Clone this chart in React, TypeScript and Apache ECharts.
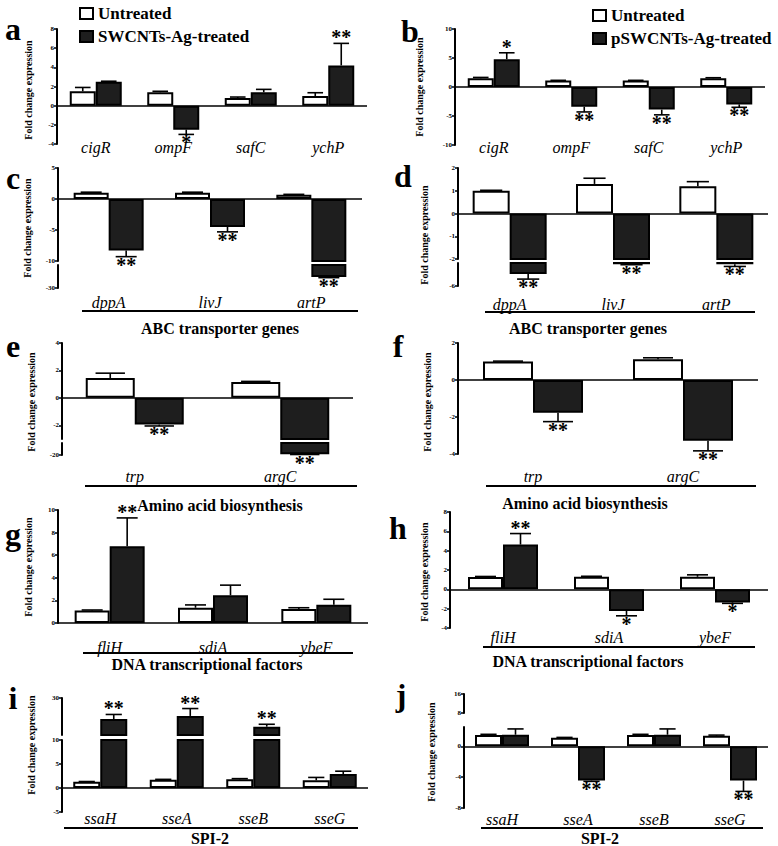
import React, { useEffect, useRef } from "react";
import * as echarts from "echarts";

const SERIF = "Liberation Serif";

// ---------- DATA ----------
// a
const catsA = ["cigR", "ompF", "safC", "ychP"];
const untreatedA = [1.5, 1.4, 0.8, 1.0];
const untreatedErrA = [0.4, 0.1, 0.1, 0.35];
const treatedA = [2.5, -2.5, 1.4, 4.2];
const treatedErrA = [0.05, 0.5, 0.3, 2.3];
const starsA = ["", "*", "", "**"];
const ticksA = [8, 6, 4, 2, 0, -2, -4];
// b
const catsB = ["cigR", "ompF", "safC", "ychP"];
const untreatedB = [1.5, 1.1, 1.1, 1.5];
const untreatedErrB = [0.15, 0.05, 0.05, 0.1];
const treatedB = [4.8, -3.4, -3.9, -3.0];
const treatedErrB = [1.1, 0.9, 0.9, 0.5];
const starsB = ["*", "**", "**", "**"];
const ticksB = [10, 5, 0, -5, -10];
// c
const catsC = ["dppA", "livJ", "artP"];
const untreatedC = [1.0, 1.0, 0.7];
const untreatedErrC = [0.1, 0.1, 0.05];
const treatedC = [-8.3, -4.5, -20.5];
const treatedErrC = [1.0, 0.8, 0.5];
const starsC = ["**", "**", "**"];
const ticksCUpper = [5, 0, -5, -10];
const ticksCLower = [-30];
// d
const catsD = ["dppA", "livJ", "artP"];
const untreatedD = [1.0, 1.3, 1.2];
const untreatedErrD = [0.02, 0.25, 0.2];
const treatedD = [-3.9, -2.2, -2.2];
const treatedErrD = [0.9, 0.1, 0.4];
const starsD = ["**", "**", "**"];
const ticksDUpper = [2, 1, 0, -1, -2];
const ticksDLower = [-6];
// e
const catsE = ["trp", "argC"];
const untreatedE = [1.45, 1.15];
const untreatedErrE = [0.35, 0.05];
const treatedE = [-1.95, -19];
const treatedErrE = [0.1, 0.3];
const starsE = ["**", "**"];
const ticksEUpper = [4, 2, 0, -2];
const ticksELower = [-20];
// f
const catsF = ["trp", "argC"];
const untreatedF = [1.0, 1.12];
const untreatedErrF = [0.02, 0.08];
const treatedF = [-1.77, -3.28];
const treatedErrF = [0.48, 0.55];
const starsF = ["**", "**"];
const ticksF = [2, 0, -2, -4];
// g
const catsG = ["fliH", "sdiA", "ybeF"];
const untreatedG = [1.1, 1.35, 1.25];
const untreatedErrG = [0.05, 0.25, 0.1];
const treatedG = [6.8, 2.45, 1.62];
const treatedErrG = [2.5, 0.9, 0.48];
const starsG = ["**", "", ""];
const ticksG = [10, 8, 6, 4, 2, 0];
// h
const catsH = ["fliH", "sdiA", "ybeF"];
const untreatedH = [1.28, 1.3, 1.3];
const untreatedErrH = [0.05, 0.05, 0.2];
const treatedH = [4.63, -2.24, -1.35];
const treatedErrH = [1.14, 0.5, 0.1];
const starsH = ["**", "*", "*"];
const ticksH = [8, 6, 4, 2, 0, -2, -4];
// i
const catsI = ["ssaH", "sseA", "sseB", "sseG"];
const untreatedI = [1.3, 1.7, 1.8, 1.6];
const untreatedErrI = [0.05, 0.1, 0.15, 0.6];
const treatedI = [18.6, 20.3, 14.5, 2.9];
const treatedErrI = [2.5, 4.0, 1.3, 0.6];
const starsI = ["**", "**", "**", ""];
const ticksIUpper = [30];
const ticksILower = [10, 5, 0, -5];
// j
const catsJ = ["ssaH", "sseA", "sseB", "sseG"];
const untreatedJ = [1.45, 1.1, 1.45, 1.35];
const untreatedErrJ = [0.1, 0.05, 0.1, 0.1];
const treatedJ = [1.5, -4.45, 1.5, -4.45];
const treatedErrJ = [0.75, 0.1, 0.75, 1.4];
const starsJ = ["", "**", "", "**"];
const ticksJUpper = [16, 8];
const ticksJLower = [0, -4, -8];

const groupTitles = ["ABC transporter genes", "Amino acid biosynthesis", "DNA transcriptional factors", "SPI-2"];

// ---------- LAYOUT ----------
type Seg = { top: number; bottom: number; min: number; max: number; ticks: number[] };
type Panel = {
  letter: string; letterX: number; letterY: number;
  titleX: number; titleY: number;
  left: number; width: number; barWidth: number; labelMargin: number;
  segs: Seg[];
  cats: string[]; u: number[]; uErr: number[]; t: number[]; tErr: number[]; stars: string[];
  treatedName: string;
  group?: { text: string; x1: number; x2: number; lineY: number; textX: number; textY: number };
};

const panels: Panel[] = [
  {
    letter: "a", letterX: 13, letterY: 29, titleX: 28, titleY: 90,
    left: 57, width: 310, barWidth: 26, labelMargin: -5,
    segs: [{ top: 29, bottom: 144, min: -4, max: 8, ticks: ticksA }],
    cats: catsA, u: untreatedA, uErr: untreatedErrA, t: treatedA, tErr: treatedErrA, stars: starsA,
    treatedName: "SWCNTs-Ag-treated",
  },
  {
    letter: "b", letterX: 410, letterY: 31, titleX: 419, titleY: 87,
    left: 455, width: 310, barWidth: 26, labelMargin: -6,
    segs: [{ top: 29, bottom: 145, min: -10, max: 10, ticks: ticksB }],
    cats: catsB, u: untreatedB, uErr: untreatedErrB, t: treatedB, tErr: treatedErrB, stars: starsB,
    treatedName: "pSWCNTs-Ag-treated",
  },
  {
    letter: "c", letterX: 13, letterY: 178, titleX: 27, titleY: 228,
    left: 58, width: 304, barWidth: 35, labelMargin: 6,
    segs: [
      { top: 168, bottom: 261, min: -10, max: 5, ticks: ticksCUpper },
      { top: 265, bottom: 288, min: -30, max: -10, ticks: ticksCLower },
    ],
    cats: catsC, u: untreatedC, uErr: untreatedErrC, t: treatedC, tErr: treatedErrC, stars: starsC,
    treatedName: "SWCNTs-Ag-treated",
    group: { text: groupTitles[0], x1: 82, x2: 358, lineY: 311, textX: 220, textY: 328 },
  },
  {
    letter: "d", letterX: 403, letterY: 176, titleX: 424, titleY: 235,
    left: 458, width: 310, barWidth: 37, labelMargin: 10,
    segs: [
      { top: 168, bottom: 259, min: -2, max: 2, ticks: ticksDUpper },
      { top: 263, bottom: 286, min: -6, max: -2, ticks: ticksDLower },
    ],
    cats: catsD, u: untreatedD, uErr: untreatedErrD, t: treatedD, tErr: treatedErrD, stars: starsD,
    treatedName: "pSWCNTs-Ag-treated",
    group: { text: groupTitles[0], x1: 485, x2: 755, lineY: 312, textX: 588, textY: 328 },
  },
  {
    letter: "e", letterX: 13, letterY: 346, titleX: 31, titleY: 402,
    left: 62, width: 291, barWidth: 49, labelMargin: 13,
    segs: [
      { top: 343, bottom: 439, min: -3, max: 4, ticks: ticksEUpper },
      { top: 443, bottom: 455, min: -20, max: -3, ticks: ticksELower },
    ],
    cats: catsE, u: untreatedE, uErr: untreatedErrE, t: treatedE, tErr: treatedErrE, stars: starsE,
    treatedName: "SWCNTs-Ag-treated",
    group: { text: groupTitles[1], x1: 85, x2: 357, lineY: 486, textX: 220, textY: 505 },
  },
  {
    letter: "f", letterX: 398, letterY: 346, titleX: 427, titleY: 402,
    left: 458, width: 300, barWidth: 50, labelMargin: 14,
    segs: [{ top: 343, bottom: 454, min: -4, max: 2, ticks: ticksF }],
    cats: catsF, u: untreatedF, uErr: untreatedErrF, t: treatedF, tErr: treatedErrF, stars: starsF,
    treatedName: "pSWCNTs-Ag-treated",
    group: { text: groupTitles[1], x1: 486, x2: 756, lineY: 486, textX: 585, textY: 503 },
  },
  {
    letter: "g", letterX: 13, letterY: 534, titleX: 28, titleY: 567,
    left: 58, width: 310, barWidth: 35, labelMargin: 16,
    segs: [{ top: 510, bottom: 623, min: 0, max: 10, ticks: ticksG }],
    cats: catsG, u: untreatedG, uErr: untreatedErrG, t: treatedG, tErr: treatedErrG, stars: starsG,
    treatedName: "SWCNTs-Ag-treated",
    group: { text: groupTitles[2], x1: 83, x2: 353, lineY: 653, textX: 207, textY: 664 },
  },
  {
    letter: "h", letterX: 398, letterY: 528, titleX: 424, titleY: 572,
    left: 450, width: 318, barWidth: 35, labelMargin: 1,
    segs: [{ top: 512, bottom: 628, min: -4, max: 8, ticks: ticksH }],
    cats: catsH, u: untreatedH, uErr: untreatedErrH, t: treatedH, tErr: treatedErrH, stars: starsH,
    treatedName: "pSWCNTs-Ag-treated",
    group: { text: groupTitles[2], x1: 483, x2: 755, lineY: 647, textX: 588, textY: 661 },
  },
  {
    letter: "i", letterX: 13, letterY: 698, titleX: 31, titleY: 745,
    left: 62, width: 306, barWidth: 27, labelMargin: -2,
    segs: [
      { top: 698, bottom: 735, min: 10, max: 30, ticks: ticksIUpper },
      { top: 740, bottom: 812, min: -5, max: 10, ticks: ticksILower },
    ],
    cats: catsI, u: untreatedI, uErr: untreatedErrI, t: treatedI, tErr: treatedErrI, stars: starsI,
    treatedName: "SWCNTs-Ag-treated",
    group: { text: groupTitles[3], x1: 64, x2: 358, lineY: 828, textX: 210, textY: 838 },
  },
  {
    letter: "j", letterX: 401, letterY: 695, titleX: 431, titleY: 752,
    left: 464, width: 304, barWidth: 27, labelMargin: 3,
    segs: [
      { top: 694, bottom: 713, min: 8, max: 16, ticks: ticksJUpper },
      { top: 727, bottom: 808, min: -8, max: 2.5, ticks: ticksJLower },
    ],
    cats: catsJ, u: untreatedJ, uErr: untreatedErrJ, t: treatedJ, tErr: treatedErrJ, stars: starsJ,
    treatedName: "pSWCNTs-Ag-treated",
    group: { text: groupTitles[3], x1: 481, x2: 763, lineY: 828, textX: 600, textY: 838 },
  },
];

function errSeries(gi: number, vals: number[], errs: number[], stars: string[] | null, side: number, seg: Seg, bw: number) {
  return {
    type: "custom",
    xAxisIndex: gi,
    yAxisIndex: gi,
    silent: true,
    clip: false,
    z: 5,
    data: vals.map((v, i) => [i, v, v + (v < 0 ? -1 : 1) * errs[i]]),
    renderItem: (params: any, api: any) => {
      const i = api.value(0);
      const v = api.value(1);
      const e = api.value(2);
      const lo = Math.min(v, e);
      const hi = Math.max(v, e);
      const cLo = Math.max(lo, seg.min);
      const cHi = Math.min(hi, seg.max);
      const cx = api.coord([i, 0])[0] + (side * bw) / 2;
      const capW = bw * 0.6;
      const children: any[] = [];
      const eIn = e >= seg.min && e <= seg.max;
      if (cLo <= cHi) {
        const y1 = api.coord([i, cLo])[1];
        const y2 = api.coord([i, cHi])[1];
        children.push({ type: "line", shape: { x1: cx, y1, x2: cx, y2 }, style: { stroke: "#000", lineWidth: 1.6 } });
        if (eIn) {
          const ye = api.coord([i, e])[1];
          children.push({
            type: "line",
            shape: { x1: cx - capW / 2, y1: ye, x2: cx + capW / 2, y2: ye },
            style: { stroke: "#000", lineWidth: 1.6 },
          });
        }
      }
      const star = stars ? stars[params.dataIndex] : "";
      if (star && eIn) {
        const ye = api.coord([i, e])[1];
        const up = v >= 0;
        children.push({
          type: "text",
          x: cx,
          y: up ? ye - 6 : ye + 8,
          style: {
            text: star,
            fill: "#000",
            fontSize: 20,
            lineHeight: 12,
            fontWeight: "bold",
            fontFamily: SERIF,
            align: "center",
            verticalAlign: "middle",
          },
        });
      }
      return { type: "group", children };
    },
  };
}

function buildOption() {
  const grid: any[] = [];
  const xAxis: any[] = [];
  const yAxis: any[] = [];
  const series: any[] = [];
  const graphic: any[] = [];

  panels.forEach((p) => {
    p.segs.forEach((s, si) => {
      const gi = grid.length;
      const isBottom = si === p.segs.length - 1;
      grid.push({ left: p.left, top: s.top, width: p.width, height: s.bottom - s.top, containLabel: false, outerBoundsMode: "none" });
      xAxis.push({
        type: "category",
        gridIndex: gi,
        data: p.cats,
        position: "bottom",
        axisLine: { show: false, onZero: false },
        axisTick: { show: false },
        splitLine: { show: false },
        axisLabel: {
          show: isBottom,
          interval: 0,
          margin: p.labelMargin,
          fontFamily: SERIF,
          fontStyle: "italic",
          fontSize: 16,
          lineHeight: 16,
          color: "#000",
        },
      });
      yAxis.push({
        type: "value",
        gridIndex: gi,
        min: s.min,
        max: s.max,
        axisLine: { show: true, onZero: false, lineStyle: { color: "#000", width: 2 } },
        axisTick: { show: true, inside: false, length: 3, lineStyle: { color: "#000", width: 1.5 }, customValues: s.ticks },
        axisLabel: { show: true, customValues: s.ticks, fontSize: 7, fontWeight: "bold", fontFamily: SERIF, color: "#000", margin: 3 },
        splitLine: { show: false },
      });
      const hasZero = s.min <= 0 && s.max >= 0;
      series.push({
        type: "bar",
        name: "Untreated",
        xAxisIndex: gi,
        yAxisIndex: gi,
        data: p.u,
        barWidth: p.barWidth,
        barGap: "0%",
        clip: true,
        silent: true,
        itemStyle: { color: "#ffffff", borderColor: "#000", borderWidth: 2 },
      });
      series.push({
        type: "bar",
        name: p.treatedName,
        xAxisIndex: gi,
        yAxisIndex: gi,
        data: p.t,
        barWidth: p.barWidth,
        barGap: "0%",
        clip: true,
        silent: true,
        itemStyle: { color: "#1e1e1e", borderColor: "#000", borderWidth: 2 },
        markLine: hasZero
          ? {
              silent: true,
              symbol: ["none", "none"],
              label: { show: false },
              lineStyle: { color: "#000", width: 1.5, type: "solid" },
              data: [{ yAxis: 0 }],
            }
          : undefined,
      });
      series.push(errSeries(gi, p.u, p.uErr, null, -1, s, p.barWidth));
      series.push(errSeries(gi, p.t, p.tErr, p.stars, 1, s, p.barWidth));
    });

    graphic.push({
      type: "text",
      x: p.letterX,
      y: p.letterY,
      style: { text: p.letter, fontSize: 32, fontWeight: "bold", fontFamily: SERIF, fill: "#000", align: "center", verticalAlign: "middle" },
    });
    graphic.push({
      type: "text",
      x: p.titleX,
      y: p.titleY,
      rotation: Math.PI / 2,
      style: { text: "Fold change expression", fontSize: 10, fontWeight: "bold", fontFamily: SERIF, fill: "#000", align: "center", verticalAlign: "middle" },
    });
    if (p.group) {
      graphic.push({
        type: "line",
        shape: { x1: p.group.x1, y1: p.group.lineY, x2: p.group.x2, y2: p.group.lineY },
        style: { stroke: "#000", lineWidth: 2 },
      });
      graphic.push({
        type: "text",
        x: p.group.textX,
        y: p.group.textY,
        style: { text: p.group.text, fontSize: 16, fontWeight: "bold", fontFamily: SERIF, fill: "#000", align: "center", verticalAlign: "middle" },
      });
    }
  });

  const legendText = { fontFamily: SERIF, fontSize: 17, fontWeight: "bold", color: "#000" };
  return {
    animation: false,
    backgroundColor: "#ffffff",
    legend: [
      {
        data: ["Untreated", "SWCNTs-Ag-treated"],
        orient: "vertical",
        left: 74,
        top: 0,
        icon: "rect",
        itemWidth: 13,
        itemHeight: 11,
        itemGap: 6,
        selectedMode: false,
        textStyle: legendText,
      },
      {
        data: ["Untreated", "pSWCNTs-Ag-treated"],
        orient: "vertical",
        left: 587,
        top: 2,
        icon: "rect",
        itemWidth: 13,
        itemHeight: 11,
        itemGap: 6,
        selectedMode: false,
        textStyle: legendText,
      },
    ],
    grid,
    xAxis,
    yAxis,
    series,
    graphic,
  };
}

export default function App() {
  const ref = useRef<HTMLDivElement>(null);
  useEffect(() => {
    document.body.style.margin = "0";
    if (!ref.current) return;
    const chart = echarts.init(ref.current, null, { renderer: "svg" });
    chart.setOption(buildOption() as any);
    return () => chart.dispose();
  }, []);
  return <div ref={ref} style={{ width: 778, height: 846, background: "#fff" }} />;
}
